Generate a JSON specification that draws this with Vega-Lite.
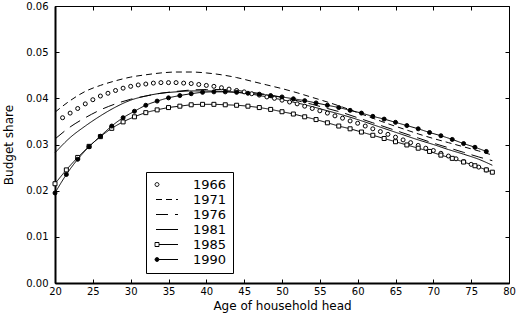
{
  "$schema": "https://vega.github.io/schema/vega-lite/v6.json",
  "width": 454,
  "height": 277,
  "autosize": "none",
  "padding": {"left": 55, "top": 6, "right": 11, "bottom": 38},
  "background": "white",
  "config": {
    "view": {"stroke": "black", "strokeWidth": 1},
    "font": "DejaVu Sans",
    "axis": {"labelFont": "DejaVu Sans", "titleFont": "DejaVu Sans", "labelColor": "black", "titleColor": "black", "tickColor": "black", "domainColor": "black", "grid": false, "titleFontWeight": "normal"}
  },
  "datasets": {
    "shares": [
      {"year": "1966", "age": 21, "share": 0.0358}, {"year": "1966", "age": 22, "share": 0.0368}, {"year": "1966", "age": 23, "share": 0.0378}, {"year": "1966", "age": 24, "share": 0.0388}, {"year": "1966", "age": 25, "share": 0.0397}, {"year": "1966", "age": 26, "share": 0.0405}, {"year": "1966", "age": 27, "share": 0.0411}, {"year": "1966", "age": 28, "share": 0.0417}, {"year": "1966", "age": 29, "share": 0.0422}, {"year": "1966", "age": 30, "share": 0.0426}, {"year": "1966", "age": 31, "share": 0.0429}, {"year": "1966", "age": 32, "share": 0.0431}, {"year": "1966", "age": 33, "share": 0.0433}, {"year": "1966", "age": 34, "share": 0.0434}, {"year": "1966", "age": 35, "share": 0.0434}, {"year": "1966", "age": 36, "share": 0.0434}, {"year": "1966", "age": 37, "share": 0.0433}, {"year": "1966", "age": 38, "share": 0.0432}, {"year": "1966", "age": 39, "share": 0.043}, {"year": "1966", "age": 40, "share": 0.0428}, {"year": "1966", "age": 41, "share": 0.0426}, {"year": "1966", "age": 42, "share": 0.0423}, {"year": "1966", "age": 43, "share": 0.042}, {"year": "1966", "age": 44, "share": 0.0417}, {"year": "1966", "age": 45, "share": 0.0414}, {"year": "1966", "age": 46, "share": 0.041}, {"year": "1966", "age": 47, "share": 0.0407}, {"year": "1966", "age": 48, "share": 0.0403}, {"year": "1966", "age": 49, "share": 0.04}, {"year": "1966", "age": 50, "share": 0.0396}, {"year": "1966", "age": 51, "share": 0.0392}, {"year": "1966", "age": 52, "share": 0.0388}, {"year": "1966", "age": 53, "share": 0.0383}, {"year": "1966", "age": 54, "share": 0.0378}, {"year": "1966", "age": 55, "share": 0.0373}, {"year": "1966", "age": 56, "share": 0.0368}, {"year": "1966", "age": 57, "share": 0.0362}, {"year": "1966", "age": 58, "share": 0.0357}, {"year": "1966", "age": 59, "share": 0.0351}, {"year": "1966", "age": 60, "share": 0.0346}, {"year": "1966", "age": 61, "share": 0.034}, {"year": "1966", "age": 62, "share": 0.0334}, {"year": "1966", "age": 63, "share": 0.0328}, {"year": "1966", "age": 64, "share": 0.0322}, {"year": "1966", "age": 65, "share": 0.0316}, {"year": "1966", "age": 66, "share": 0.031}, {"year": "1966", "age": 67, "share": 0.0304}, {"year": "1966", "age": 68, "share": 0.0298}, {"year": "1966", "age": 69, "share": 0.0292}, {"year": "1966", "age": 70, "share": 0.0287}, {"year": "1966", "age": 71, "share": 0.0281}, {"year": "1966", "age": 72, "share": 0.0275}, {"year": "1966", "age": 73, "share": 0.0269}, {"year": "1966", "age": 74, "share": 0.0263}, {"year": "1966", "age": 75, "share": 0.0257}, {"year": "1966", "age": 76, "share": 0.0251}, {"year": "1966", "age": 77, "share": 0.0245},
      {"year": "1971", "age": 20, "share": 0.037}, {"year": "1971", "age": 22, "share": 0.0395}, {"year": "1971", "age": 24, "share": 0.0415}, {"year": "1971", "age": 26, "share": 0.0428}, {"year": "1971", "age": 28, "share": 0.0438}, {"year": "1971", "age": 30, "share": 0.0446}, {"year": "1971", "age": 32, "share": 0.0451}, {"year": "1971", "age": 34, "share": 0.0455}, {"year": "1971", "age": 36, "share": 0.0457}, {"year": "1971", "age": 38, "share": 0.0457}, {"year": "1971", "age": 40, "share": 0.0455}, {"year": "1971", "age": 42, "share": 0.0451}, {"year": "1971", "age": 44, "share": 0.0445}, {"year": "1971", "age": 46, "share": 0.0437}, {"year": "1971", "age": 48, "share": 0.0429}, {"year": "1971", "age": 50, "share": 0.0421}, {"year": "1971", "age": 52, "share": 0.0412}, {"year": "1971", "age": 54, "share": 0.0402}, {"year": "1971", "age": 56, "share": 0.0392}, {"year": "1971", "age": 58, "share": 0.0381}, {"year": "1971", "age": 60, "share": 0.0369}, {"year": "1971", "age": 62, "share": 0.0357}, {"year": "1971", "age": 64, "share": 0.0345}, {"year": "1971", "age": 66, "share": 0.0334}, {"year": "1971", "age": 68, "share": 0.0323}, {"year": "1971", "age": 70, "share": 0.0313}, {"year": "1971", "age": 72, "share": 0.0304}, {"year": "1971", "age": 74, "share": 0.0295}, {"year": "1971", "age": 76, "share": 0.0286}, {"year": "1971", "age": 77.8, "share": 0.0277},
      {"year": "1976", "age": 20, "share": 0.0312}, {"year": "1976", "age": 22, "share": 0.0338}, {"year": "1976", "age": 24, "share": 0.0358}, {"year": "1976", "age": 26, "share": 0.0375}, {"year": "1976", "age": 28, "share": 0.0388}, {"year": "1976", "age": 30, "share": 0.0398}, {"year": "1976", "age": 32, "share": 0.0405}, {"year": "1976", "age": 34, "share": 0.0411}, {"year": "1976", "age": 36, "share": 0.0415}, {"year": "1976", "age": 38, "share": 0.0418}, {"year": "1976", "age": 40, "share": 0.0419}, {"year": "1976", "age": 42, "share": 0.0419}, {"year": "1976", "age": 44, "share": 0.0417}, {"year": "1976", "age": 46, "share": 0.0413}, {"year": "1976", "age": 48, "share": 0.0408}, {"year": "1976", "age": 50, "share": 0.0402}, {"year": "1976", "age": 52, "share": 0.0395}, {"year": "1976", "age": 54, "share": 0.0387}, {"year": "1976", "age": 56, "share": 0.0378}, {"year": "1976", "age": 58, "share": 0.0369}, {"year": "1976", "age": 60, "share": 0.0358}, {"year": "1976", "age": 62, "share": 0.0347}, {"year": "1976", "age": 64, "share": 0.0336}, {"year": "1976", "age": 66, "share": 0.0325}, {"year": "1976", "age": 68, "share": 0.0314}, {"year": "1976", "age": 70, "share": 0.0303}, {"year": "1976", "age": 72, "share": 0.0293}, {"year": "1976", "age": 74, "share": 0.0283}, {"year": "1976", "age": 76, "share": 0.0273}, {"year": "1976", "age": 77.8, "share": 0.0265},
      {"year": "1981", "age": 20, "share": 0.0282}, {"year": "1981", "age": 22, "share": 0.0315}, {"year": "1981", "age": 24, "share": 0.034}, {"year": "1981", "age": 26, "share": 0.0362}, {"year": "1981", "age": 28, "share": 0.0381}, {"year": "1981", "age": 30, "share": 0.0396}, {"year": "1981", "age": 32, "share": 0.0405}, {"year": "1981", "age": 34, "share": 0.0411}, {"year": "1981", "age": 36, "share": 0.0414}, {"year": "1981", "age": 38, "share": 0.0416}, {"year": "1981", "age": 40, "share": 0.0416}, {"year": "1981", "age": 42, "share": 0.0415}, {"year": "1981", "age": 44, "share": 0.0413}, {"year": "1981", "age": 46, "share": 0.0409}, {"year": "1981", "age": 48, "share": 0.0403}, {"year": "1981", "age": 50, "share": 0.0397}, {"year": "1981", "age": 52, "share": 0.039}, {"year": "1981", "age": 54, "share": 0.0382}, {"year": "1981", "age": 56, "share": 0.0373}, {"year": "1981", "age": 58, "share": 0.0364}, {"year": "1981", "age": 60, "share": 0.0354}, {"year": "1981", "age": 62, "share": 0.0343}, {"year": "1981", "age": 64, "share": 0.0332}, {"year": "1981", "age": 66, "share": 0.0321}, {"year": "1981", "age": 68, "share": 0.031}, {"year": "1981", "age": 70, "share": 0.03}, {"year": "1981", "age": 72, "share": 0.0289}, {"year": "1981", "age": 74, "share": 0.0279}, {"year": "1981", "age": 76, "share": 0.0268}, {"year": "1981", "age": 77.8, "share": 0.0255},
      {"year": "1985", "age": 20, "share": 0.0215}, {"year": "1985", "age": 21.5, "share": 0.0245}, {"year": "1985", "age": 23, "share": 0.0272}, {"year": "1985", "age": 24.5, "share": 0.0296}, {"year": "1985", "age": 26, "share": 0.0317}, {"year": "1985", "age": 27.5, "share": 0.0335}, {"year": "1985", "age": 29, "share": 0.0349}, {"year": "1985", "age": 30.5, "share": 0.036}, {"year": "1985", "age": 32, "share": 0.0369}, {"year": "1985", "age": 33.5, "share": 0.0375}, {"year": "1985", "age": 35, "share": 0.038}, {"year": "1985", "age": 36.5, "share": 0.0383}, {"year": "1985", "age": 38, "share": 0.0386}, {"year": "1985", "age": 39.5, "share": 0.0387}, {"year": "1985", "age": 41, "share": 0.0387}, {"year": "1985", "age": 42.5, "share": 0.0386}, {"year": "1985", "age": 44, "share": 0.0385}, {"year": "1985", "age": 45.5, "share": 0.0383}, {"year": "1985", "age": 47, "share": 0.038}, {"year": "1985", "age": 48.5, "share": 0.0376}, {"year": "1985", "age": 50, "share": 0.0371}, {"year": "1985", "age": 51.5, "share": 0.0366}, {"year": "1985", "age": 53, "share": 0.036}, {"year": "1985", "age": 54.5, "share": 0.0354}, {"year": "1985", "age": 56, "share": 0.0347}, {"year": "1985", "age": 57.5, "share": 0.034}, {"year": "1985", "age": 59, "share": 0.0334}, {"year": "1985", "age": 60.5, "share": 0.0327}, {"year": "1985", "age": 62, "share": 0.032}, {"year": "1985", "age": 63.5, "share": 0.0313}, {"year": "1985", "age": 65, "share": 0.0306}, {"year": "1985", "age": 66.5, "share": 0.0299}, {"year": "1985", "age": 68, "share": 0.0292}, {"year": "1985", "age": 69.5, "share": 0.0285}, {"year": "1985", "age": 71, "share": 0.0277}, {"year": "1985", "age": 72.5, "share": 0.027}, {"year": "1985", "age": 74, "share": 0.0262}, {"year": "1985", "age": 75.5, "share": 0.0254}, {"year": "1985", "age": 77, "share": 0.0245}, {"year": "1985", "age": 77.8, "share": 0.024},
      {"year": "1990", "age": 20, "share": 0.0195}, {"year": "1990", "age": 21.5, "share": 0.0235}, {"year": "1990", "age": 23, "share": 0.0268}, {"year": "1990", "age": 24.5, "share": 0.0295}, {"year": "1990", "age": 26, "share": 0.0318}, {"year": "1990", "age": 27.5, "share": 0.034}, {"year": "1990", "age": 29, "share": 0.0358}, {"year": "1990", "age": 30.5, "share": 0.0372}, {"year": "1990", "age": 32, "share": 0.0385}, {"year": "1990", "age": 33.5, "share": 0.0394}, {"year": "1990", "age": 35, "share": 0.0401}, {"year": "1990", "age": 36.5, "share": 0.0406}, {"year": "1990", "age": 38, "share": 0.041}, {"year": "1990", "age": 39.5, "share": 0.0413}, {"year": "1990", "age": 41, "share": 0.0414}, {"year": "1990", "age": 42.5, "share": 0.0414}, {"year": "1990", "age": 44, "share": 0.0413}, {"year": "1990", "age": 45.5, "share": 0.0411}, {"year": "1990", "age": 47, "share": 0.0409}, {"year": "1990", "age": 48.5, "share": 0.0406}, {"year": "1990", "age": 50, "share": 0.0403}, {"year": "1990", "age": 51.5, "share": 0.0399}, {"year": "1990", "age": 53, "share": 0.0395}, {"year": "1990", "age": 54.5, "share": 0.039}, {"year": "1990", "age": 56, "share": 0.0385}, {"year": "1990", "age": 57.5, "share": 0.038}, {"year": "1990", "age": 59, "share": 0.0374}, {"year": "1990", "age": 60.5, "share": 0.0368}, {"year": "1990", "age": 62, "share": 0.0361}, {"year": "1990", "age": 63.5, "share": 0.0355}, {"year": "1990", "age": 65, "share": 0.0348}, {"year": "1990", "age": 66.5, "share": 0.0341}, {"year": "1990", "age": 68, "share": 0.0334}, {"year": "1990", "age": 69.5, "share": 0.0326}, {"year": "1990", "age": 71, "share": 0.0319}, {"year": "1990", "age": 72.5, "share": 0.0311}, {"year": "1990", "age": 74, "share": 0.0302}, {"year": "1990", "age": 75.5, "share": 0.0294}, {"year": "1990", "age": 77, "share": 0.0285}
    ]
  },
  "data": {"name": "shares"},
  "layer": [
    {
      "transform": [{"filter": "datum.year != '1966'"}],
      "mark": {"type": "line", "color": "black", "strokeWidth": 1, "interpolate": "monotone"},
      "encoding": {
        "x": {"field": "age", "type": "quantitative", "scale": {"domain": [20, 80], "nice": false},
          "axis": {"orient": "bottom", "title": "Age of household head", "values": [20, 25, 30, 35, 40, 45, 50, 55, 60, 65, 70, 75, 80], "labelFontSize": 10, "titleFontSize": 12, "tickSize": -4, "labelPadding": 7, "titlePadding": 4, "domainWidth": 2, "labelFlush": false}},
        "y": {"field": "share", "type": "quantitative", "scale": {"domain": [0, 0.06], "nice": false},
          "axis": {"orient": "left", "title": "Budget share", "values": [0, 0.01, 0.02, 0.03, 0.04, 0.05, 0.06], "format": ".2f", "labelFontSize": 10, "titleFontSize": 12, "tickSize": -4, "labelPadding": 11, "titlePadding": 10, "domainWidth": 2, "labelFlush": false}},
        "strokeDash": {"field": "year", "type": "nominal",
          "scale": {"domain": {"unionWith": ["1966", "1971", "1976", "1981", "1985", "1990"]}, "range": [[1, 0], [6, 4], [12, 7], [1, 0], [1, 0], [1, 0]]},
          "legend": {"title": null, "orient": "none", "legendX": 91, "legendY": 166, "strokeColor": "black", "padding": 6, "symbolType": "M-4.4,0H4.4", "symbolSize": 25, "symbolOffset": 8.5, "symbolFillColor": "transparent", "symbolStrokeColor": "black", "symbolStrokeWidth": 1, "labelFont": "DejaVu Sans", "labelFontSize": 13, "labelColor": "black", "labelOffset": 19.5, "rowPadding": 1, "labelExpr": "datum.label + '          '",
            "encode": {"symbols": {"update": {
              "shape": {"signal": "datum.value === '1966' ? 'M-3.2,0L-3.43,0.57L-4,0.8L-4.57,0.57L-4.8,0L-4.57,-0.57L-4,-0.8L-3.43,-0.57Z' : datum.value === '1985' ? 'M-4.8,-0.8H-3.2V0.8H-4.8ZM-3.2,0H4.4' : datum.value === '1990' ? 'M-3.2,0L-3.43,0.57L-4,0.8L-4.57,0.57L-4.8,0L-4.57,-0.57L-4,-0.8L-3.43,-0.57ZM-3.2,0H4.4' : 'M-4.4,0H4.4'"},
              "fill": {"signal": "datum.value === '1990' ? 'black' : 'transparent'"},
              "stroke": {"value": "black"},
              "strokeWidth": {"value": 1},
              "opacity": {"value": 1}
            }}}}}
      }
    },
    {
      "transform": [{"filter": "datum.year == '1966' || datum.year == '1985' || datum.year == '1990'"}],
      "mark": {"type": "point", "color": "black", "strokeWidth": 1, "opacity": 1, "size": 16},
      "encoding": {
        "x": {"field": "age", "type": "quantitative", "scale": {"domain": [20, 80], "nice": false},
          "axis": {"orient": "top", "title": null, "labels": false, "domain": false, "values": [20, 25, 30, 35, 40, 45, 50, 55, 60, 65, 70, 75, 80], "tickSize": -4}},
        "y": {"field": "share", "type": "quantitative", "scale": {"domain": [0, 0.06], "nice": false},
          "axis": {"orient": "right", "title": null, "labels": false, "domain": false, "values": [0, 0.01, 0.02, 0.03, 0.04, 0.05, 0.06], "tickSize": -4}},
        "shape": {"field": "year", "type": "nominal",
          "scale": {"domain": ["1966", "1985", "1990"], "range": ["circle", "square", "circle"]}, "legend": null},
        "fill": {"field": "year", "type": "nominal",
          "scale": {"domain": ["1966", "1985", "1990"], "range": ["white", "white", "black"]}, "legend": null}
      }
    }
  ],
  "resolve": {"axis": {"x": "independent", "y": "independent"}}
}
